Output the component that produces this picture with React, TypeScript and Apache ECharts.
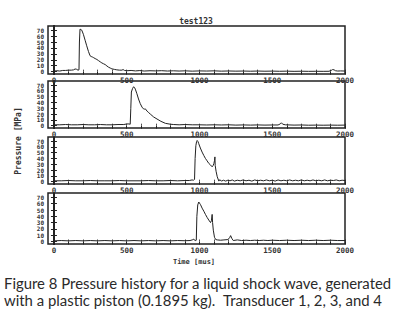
import React, { useEffect, useRef } from "react";
import * as echarts from "echarts";

const xLabelValues = [0, 500, 1000, 1500, 2000];
const xTickValues = [
  0, 100, 200, 300, 400, 500, 600, 700, 800, 900, 1000, 1100, 1200, 1300, 1400,
  1500, 1600, 1700, 1800, 1900, 2000,
];
const yLabelValues = [0, 10, 20, 30, 40, 50, 60, 70];

const transducer1: [number, number][] = [
  [0, 1], [20, 1.5], [40, 1], [60, 2], [80, 2], [100, 2.5], [120, 2.5], [135, 3],
  [145, 4.5], [155, 4], [165, 2.5], [172, 3], [175, 50], [179, 71.7], [185, 71],
  [191, 70], [202, 63], [214, 53], [225, 43.6], [237, 34], [248, 26.8], [256, 25.5],
  [264, 24.7], [273, 23.5], [283, 22], [295, 20.5], [306, 18.6], [318, 16.5],
  [329, 14.7], [341, 13.2], [352, 11.9], [364, 9.5], [375, 7.5], [387, 6], [398, 4.7],
  [415, 3.8], [432, 3], [450, 2.5], [467, 2.5], [475, 3.5], [485, 2], [500, 1.5],
  [530, 2], [560, 1.2], [590, 1.8], [620, 1], [660, 1.5], [700, 1.2], [740, 1.6],
  [780, 1], [820, 1.4], [860, 1], [900, 1.3], [950, 0.8], [1000, 1.2], [1050, 1],
  [1100, 1.3], [1150, 0.8], [1200, 1.1], [1250, 0.8], [1300, 1], [1350, 0.7],
  [1400, 1], [1450, 0.7], [1500, 0.9], [1550, 0.6], [1600, 0.8], [1650, 0.5],
  [1700, 0.7], [1750, 0.5], [1800, 0.6], [1850, 0.5], [1890, 0.6], [1905, 2],
  [1915, 3.5], [1925, 3], [1935, 1.5], [1950, 1], [1970, 1.2], [2000, 1],
];

const transducer2: [number, number][] = [
  [0, 1.5], [40, 1.5], [80, 2], [120, 1.5], [160, 1.5], [200, 2], [240, 1.5],
  [280, 1.5], [320, 2], [360, 1.5], [400, 1.5], [440, 2], [480, 2], [500, 3],
  [515, 3], [524, 2.5], [528, 30], [532, 58], [540, 64], [547, 67], [553, 66],
  [559, 63], [570, 55], [581, 46], [593, 38], [605, 32], [615, 29], [622, 28.5],
  [628, 29], [640, 25], [651, 22.5], [662, 20], [685, 15], [708, 11.5], [735, 7.5],
  [766, 4], [800, 2.5], [823, 2], [860, 1.5], [900, 2], [950, 1.5], [1000, 1.5],
  [1050, 1.2], [1100, 1.5], [1150, 1.2], [1200, 1.5], [1250, 1], [1300, 1.3],
  [1350, 1], [1400, 1.3], [1450, 1], [1500, 1.2], [1540, 1.2], [1555, 3], [1563, 5],
  [1572, 2.5], [1590, 1.5], [1650, 1], [1700, 1.2], [1750, 0.8], [1800, 1],
  [1850, 0.8], [1900, 1], [1950, 0.8], [2000, 1],
];

const transducer3: [number, number][] = [
  [0, 1.5], [50, 1.5], [100, 2], [150, 1.5], [200, 1.5], [250, 2], [300, 1.5],
  [350, 1.5], [400, 1.5], [450, 2], [500, 1.5], [550, 1.5], [600, 1.5], [650, 2],
  [700, 1.5], [750, 1.5], [800, 2], [850, 1.5], [900, 2], [930, 2], [949, 3],
  [960, 2.5], [966, 4], [970, 40], [975, 62], [980, 69], [984, 71], [990, 69],
  [995, 65.5], [1006, 58], [1018, 51], [1030, 45], [1041, 40], [1052, 36],
  [1064, 31.5], [1075, 29], [1087, 25.6], [1094, 28], [1099, 31.4], [1103, 36],
  [1106, 42.7], [1108, 28], [1114, 18], [1122, 8.5], [1133, 1], [1140, 3.5],
  [1150, 1], [1165, 2.5], [1180, 1], [1195, 2.5], [1210, 1.5], [1225, 3], [1240, 1],
  [1260, 2.5], [1280, 1.5], [1300, 3], [1320, 1.5], [1340, 2.5], [1360, 1],
  [1380, 3], [1400, 1.5], [1420, 2.5], [1440, 1.5], [1460, 3], [1480, 1.5],
  [1500, 2.5], [1520, 1], [1540, 3], [1560, 1.5], [1580, 2.5], [1600, 1.5],
  [1620, 3], [1640, 1.5], [1660, 2.5], [1680, 1.5], [1700, 3], [1720, 1.5],
  [1740, 2.5], [1760, 1.5], [1780, 3], [1800, 1.5], [1820, 2.5], [1840, 1.5],
  [1860, 3], [1880, 1.5], [1900, 2.5], [1920, 2], [1940, 3], [1960, 1.5],
  [1980, 2.5], [2000, 2],
];

const transducer4: [number, number][] = [
  [0, 1], [50, 1.5], [100, 1], [150, 1.5], [200, 1], [250, 1.5], [300, 1],
  [350, 1.5], [400, 1], [450, 1.5], [500, 1], [550, 1.5], [600, 1], [650, 1.5],
  [700, 1], [750, 1.5], [800, 1], [850, 1.5], [900, 1.2], [935, 1.5], [950, 2.5],
  [961, 3.5], [970, 1.5], [978, 2], [982, 40], [988, 58], [995, 62.7], [1000, 61],
  [1007, 58.5], [1018, 53], [1030, 48], [1041, 43], [1053, 38], [1064, 34],
  [1076, 30], [1082, 33], [1087, 43], [1090, 30], [1095, 18], [1103, 6.7],
  [1112, 3], [1122, 2.5], [1145, 2], [1168, 2.5], [1195, 3], [1207, 6], [1214, 9.3],
  [1222, 5], [1232, 1.5], [1260, 2.5], [1290, 1.5], [1320, 2], [1350, 1.5],
  [1380, 2], [1410, 1.5], [1440, 2], [1470, 1.5], [1500, 2], [1550, 1.5], [1600, 2],
  [1650, 1.5], [1700, 2], [1750, 1.5], [1800, 2], [1850, 1.5], [1900, 2],
  [1950, 1.5], [2000, 1.5],
];

const titleText = "test123";
const xAxisTitle = "Time [mus]";
const yAxisTitle = "Pressure [MPa]";
const captionLine1 = "Figure 8 Pressure history for a liquid shock wave, generated";
const captionLine2a = "with a plastic piston (0.1895 kg).";
const captionLine2b = "Transducer 1, 2, 3, and 4";

const panels = [transducer1, transducer2, transducer3, transducer4];
const panelBoxes = [
  { top: 26, height: 48 },
  { top: 81, height: 47 },
  { top: 137, height: 47 },
  { top: 193, height: 51 },
];

const INK = "#222";
const MONO = "DejaVu Sans Mono";
const CAPTION_FONT = "14.9px Lato";

export default function App() {
  const ref = useRef<HTMLDivElement>(null);
  useEffect(() => {
    if (!ref.current) return;
    const chart = echarts.init(ref.current, undefined, { renderer: "svg" });
    const grid: any[] = [];
    const xAxis: any[] = [];
    const yAxis: any[] = [];
    const series: any[] = [];
    panels.forEach((data, i) => {
      const box = panelBoxes[i];
      grid.push({
        left: 48,
        width: 297,
        top: box.top,
        height: box.height,
        show: true,
        borderColor: INK,
        borderWidth: 1.5,
        backgroundColor: "transparent",
      });
      const xCommon = {
        type: "value",
        gridIndex: i,
        min: -41,
        max: 2000,
        splitLine: { show: false },
        axisLine: { show: false },
      };
      xAxis.push({
        ...xCommon,
        position: "bottom",
        axisTick: {
          show: true,
          inside: true,
          length: 2,
          customValues: xTickValues,
          lineStyle: { color: INK, width: 0.8 },
        },
        axisLabel: {
          fontSize: 7.5,
          fontFamily: MONO,
          fontWeight: "bold",
          color: "#333",
          customValues: xLabelValues,
          formatter: (v: number) => String(v),
          margin: 2,
          showMinLabel: true,
          showMaxLabel: true,
          hideOverlap: false,
        },
      });
      xAxis.push({
        ...xCommon,
        position: "top",
        axisTick: {
          show: true,
          inside: true,
          length: 3,
          customValues: xTickValues,
          lineStyle: { color: INK, width: 1 },
        },
        axisLabel: { show: false },
      });
      const yCommon = {
        type: "value",
        gridIndex: i,
        min: -4,
        max: 77,
        splitLine: { show: false },
        axisTick: {
          show: true,
          inside: true,
          length: 3,
          customValues: yLabelValues,
          lineStyle: { color: INK, width: 1 },
        },
      };
      yAxis.push({
        ...yCommon,
        position: "left",
        axisLine: { show: true, lineStyle: { color: INK, width: 2 } },
        axisLabel: {
          fontSize: 6,
          lineHeight: 6,
          fontFamily: MONO,
          fontWeight: "bold",
          color: "#333",
          customValues: yLabelValues,
          formatter: (v: number) => String(v),
          margin: 4,
          showMinLabel: true,
          showMaxLabel: true,
          hideOverlap: false,
        },
      });
      yAxis.push({
        ...yCommon,
        position: "right",
        axisLine: { show: true, lineStyle: { color: INK, width: 2 } },
        axisLabel: { show: false },
      });
      series.push({
        type: "line",
        xAxisIndex: i * 2,
        yAxisIndex: i * 2,
        data,
        showSymbol: false,
        lineStyle: { color: INK, width: 1 },
        silent: true,
      });
    });

    chart.setOption({
      animation: false,
      backgroundColor: "#fff",
      grid,
      xAxis,
      yAxis,
      series,
      graphic: [
        {
          type: "text",
          x: 196,
          y: 21,
          style: {
            text: titleText,
            font: "bold 8px 'DejaVu Sans Mono'",
            fill: "#333",
            textAlign: "center",
            textVerticalAlign: "middle",
          },
        },
        {
          type: "text",
          x: 194,
          y: 262,
          style: {
            text: xAxisTitle,
            font: "bold 7px 'DejaVu Sans Mono'",
            fill: "#333",
            textAlign: "center",
            textVerticalAlign: "middle",
          },
        },
        {
          type: "text",
          x: 18,
          y: 141,
          rotation: Math.PI / 2,
          style: {
            text: yAxisTitle,
            font: "bold 8px 'DejaVu Sans Mono'",
            fill: "#333",
            textAlign: "center",
            textVerticalAlign: "middle",
          },
        },
        {
          type: "text",
          x: 4,
          y: 290,
          style: {
            text: captionLine1,
            font: CAPTION_FONT,
            fill: "#2a2a2a",
            textAlign: "left",
            textVerticalAlign: "bottom",
          },
        },
        {
          type: "text",
          x: 4,
          y: 307,
          style: {
            text: captionLine2a,
            font: CAPTION_FONT,
            fill: "#2a2a2a",
            textAlign: "left",
            textVerticalAlign: "bottom",
          },
        },
        {
          type: "text",
          x: 382,
          y: 307,
          style: {
            text: captionLine2b,
            font: CAPTION_FONT,
            fill: "#2a2a2a",
            textAlign: "right",
            textVerticalAlign: "bottom",
          },
        },
      ],
    });
    return () => chart.dispose();
  }, []);
  return (
    <div
      ref={ref}
      style={{ position: "fixed", left: 0, top: 0, width: 400, height: 322 }}
    />
  );
}
